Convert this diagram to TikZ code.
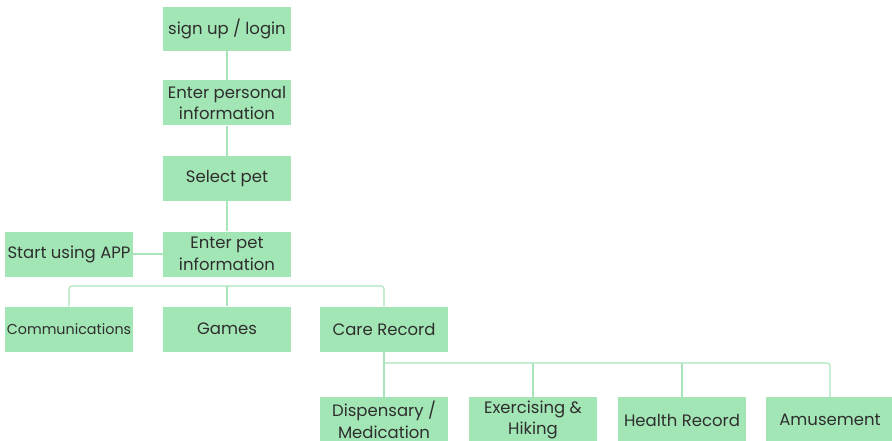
\documentclass[tikz,border=0pt]{standalone}
\usepackage{fontspec}
\setmainfont{Poppins}
\usetikzlibrary{calc}
\definecolor{boxgreen}{HTML}{A3E6B5}
\definecolor{linegreen}{HTML}{A9E5BA}
\definecolor{textgray}{HTML}{2E2E2E}

\begin{document}
\begin{tikzpicture}[x=1pt,y=-1pt,
	card/.style={fill=boxgreen, minimum width=128pt, minimum height=45pt,
		inner sep=0pt, align=center, text=textgray,
		font=\fontsize{16.5}{21.5}\selectfont},
	link/.style={linegreen, line width=1.1pt}]
	\useasboundingbox (0,0) rectangle (892,441);
	\clip (0,0) rectangle (892,441);
	% bus lines
	\coordinate (busA) at (0,286);
	\coordinate (busB) at (0,363);

	% main column
	\node[card, minimum height=44pt] (signup) at (227,29) {sign up / login};
	\node[card] (personal) at (227,103) {Enter personal\\information};
	\node[card] (selectpet) at (227,178.5) {Select pet};
	\node[card] (petinfo) at (227,254) {Enter pet\\information};
	\node[card] (startapp) at (69,254) {Start using APP};

	% second row
	\node[card, font=\fontsize{14.3}{18}\selectfont] (comms) at (69,329) {Communications};
	\node[card] (games) at (227,329) {Games};
	\node[card] (care) at (384,329) {Care Record};

	% bottom row (cut by the page)
	\node[card, minimum height=46pt] (dispensary) at (384,420) {Dispensary /\\Medication};
	\node[card, minimum height=46pt] (exercise) at (533,420) {Exercising \&\\Hiking};
	\node[card, minimum height=46pt] (health) at (682,420) {Health Record};
	\node[card, minimum height=46pt] (amuse) at (830,420) {Amusement};

	\draw[link] (signup) -- (personal);
	\draw[link] (personal) -- (selectpet);
	\draw[link] (selectpet) -- (petinfo);
	\draw[link] (startapp) -- (petinfo);

	\draw[link, rounded corners=3pt] (comms.north) -- (comms.north |- busA) -| (care.north);
	\draw[link] (games.north |- busA) -- (games.north);

	\draw[link] (care) -- (dispensary);
	\draw[link, rounded corners=3pt] (care.south |- busB) -| (amuse.north);
	\draw[link] (exercise.north |- busB) -- (exercise.north);
	\draw[link] (health.north |- busB) -- (health.north);
\end{tikzpicture}
\end{document}
